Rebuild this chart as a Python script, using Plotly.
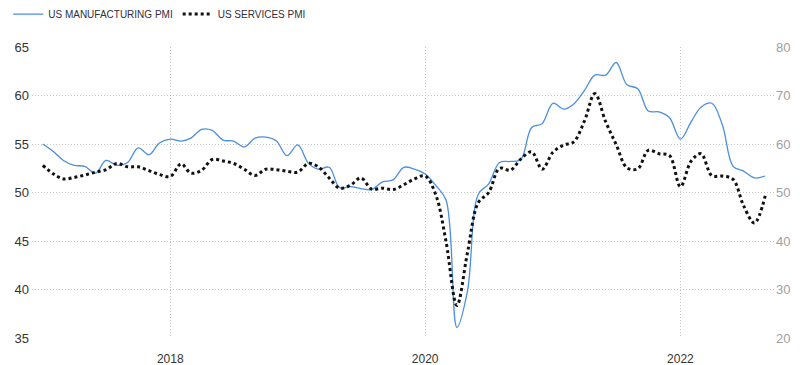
import plotly.graph_objects as go
import pandas as pd

dates = pd.date_range("2017-01-01", "2022-09-01", freq="MS")

manufacturing = [
    55.0, 54.2, 53.3, 52.8, 52.7, 52.0, 53.3, 52.8, 53.1, 54.6, 53.9, 55.1,
    55.5, 55.3, 55.6, 56.5, 56.4, 55.4, 55.3, 54.7, 55.6, 55.7, 55.3, 53.8,
    54.9, 53.0, 52.4, 52.6, 50.5, 50.6, 50.4, 50.3, 51.1, 51.3, 52.6, 52.4,
    51.9, 50.7, 49.2, 36.1, 39.8, 49.8, 50.9, 53.1, 53.2, 53.4, 56.7, 57.1,
    59.2, 58.6, 59.1, 60.5, 62.1, 62.1, 63.4, 61.1, 60.7, 58.4, 58.3, 57.7,
    55.5, 57.3, 58.8, 59.2, 57.0, 52.7, 52.2, 51.5, 51.7,
]

services = [
    55.6, 53.8, 52.8, 53.1, 53.6, 54.2, 54.7, 56.0, 55.3, 55.3, 54.5, 53.7,
    53.3, 55.9, 54.0, 54.6, 56.8, 56.5, 56.0, 54.8, 53.5, 54.8, 54.7, 54.4,
    54.2, 56.0, 55.3, 53.0, 50.9, 51.5, 53.0, 50.7, 50.9, 50.6, 51.6, 52.8,
    53.4, 49.4, 39.8, 26.7, 37.5, 47.9, 50.0, 55.0, 54.6, 56.9, 58.4, 54.8,
    58.3, 59.8, 60.4, 64.7, 70.4, 64.6, 59.9, 55.1, 54.9, 58.7, 58.0, 57.6,
    51.2, 56.5, 58.0, 53.5, 53.4, 52.7, 47.3, 43.7, 49.3,
]

left_ticks = [35, 40, 45, 50, 55, 60, 65]
right_ticks = [20, 30, 40, 50, 60, 70, 80]
x_ticks = ["2018-01-01", "2020-01-01", "2022-01-01"]
x_tick_labels = ["2018", "2020", "2022"]

fig = go.Figure()
fig.add_trace(go.Scatter(
    x=dates, y=manufacturing, name="US MANUFACTURING PMI", mode="lines",
    line=dict(color="#4a8fe0", width=1.3, shape="spline", smoothing=1.0),
    yaxis="y",
))
fig.add_trace(go.Scatter(
    x=dates, y=services, name="US SERVICES PMI", mode="lines",
    line=dict(color="#111111", width=3, dash="dot", shape="spline", smoothing=1.0),
    yaxis="y2",
))

grid = dict(showgrid=True, gridcolor="#c8c8c8", griddash="1px,2px", gridwidth=1, zeroline=False)

fig.update_layout(
    width=792, height=357,
    margin=dict(l=24, r=25, t=39, b=27, autoexpand=False),
    paper_bgcolor="white", plot_bgcolor="white",
    font=dict(family="Liberation Sans, Arial, sans-serif", size=12, color="#333333"),
    showlegend=True,
    legend=dict(
        orientation="h", x=-0.032, xanchor="left", y=1.113, yanchor="middle",
        font=dict(size=10, color="#2f2f40"), itemwidth=30,
        bgcolor="rgba(0,0,0,0)",
    ),
    xaxis=dict(
        range=["2016-12-01", "2022-09-29"],
        tickvals=x_ticks, ticktext=x_tick_labels,
        tickfont=dict(size=12, color="#333333"),
        showline=False, ticks="", automargin=False, ticklabelstandoff=12, **grid,
    ),
    yaxis=dict(
        range=[35, 65], tickvals=left_ticks,
        tickfont=dict(size=13, color="#333333"),
        showline=False, ticks="", automargin=False, ticklabelstandoff=2, **grid,
    ),
    yaxis2=dict(
        range=[20, 80], tickvals=right_ticks, overlaying="y", side="right",
        tickfont=dict(size=13, color="#a0a0a0"), automargin=False,
        showline=False, ticks="", showgrid=False, zeroline=False,
    ),
)

fig.write_html("out.html")
